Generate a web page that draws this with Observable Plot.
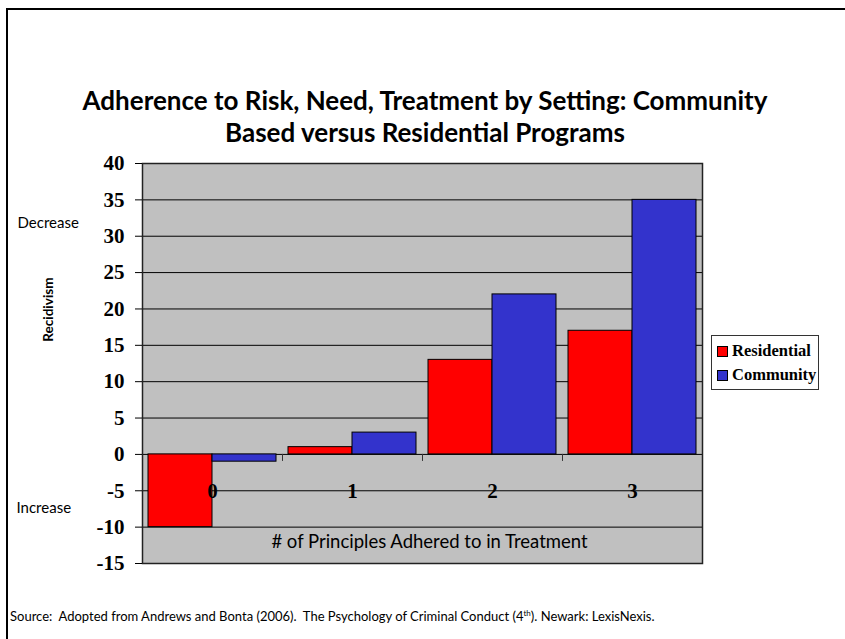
<!DOCTYPE html>
<html>
<head>
<meta charset="utf-8">
<script src="https://cdn.jsdelivr.net/npm/d3@7"></script>
<script src="https://cdn.jsdelivr.net/npm/@observablehq/plot@0.6"></script>
<style>
  body { margin: 0; background: #fff; }
  #chart { position: relative; width: 845px; height: 639px; overflow: hidden; font-family: Lato, "Open Sans", sans-serif; color: #000; }
  #chart svg { position: absolute; left: 0; top: 0; }
  .edge-top { position: absolute; left: 6px; top: 8px; right: 0; border-top: 2px solid #000; }
  .edge-left { position: absolute; left: 6px; top: 8px; bottom: 0; border-left: 2px solid #000; }
  .title { position: absolute; left: 0; width: 850px; top: 84px; text-align: center; font-weight: 700; font-size: 26px; line-height: 32px; }
  .source { position: absolute; left: 10px; top: 608px; font-size: 13px; white-space: nowrap; }
  .source sup { font-size: 8px; }
  .legend { position: absolute; left: 711px; top: 335px; width: 108px; height: 55px; border: 1px solid #333; box-sizing: border-box; background: #fff;
            font-family: "Liberation Serif", "Times New Roman", serif; font-weight: 700; font-size: 16.5px; }
  .legend .item { position: absolute; left: 5px; display: flex; align-items: center; white-space: nowrap; }
  .legend .sw { width: 9px; height: 9px; border: 1px solid #000; margin-right: 4px; }
</style>
</head>
<body>
<div id="chart">
  <div class="edge-top"></div>
  <div class="edge-left"></div>
  <div class="title">Adherence to Risk, Need, Treatment by Setting: Community<br>Based versus Residential Programs</div>
  <div class="source">Source:&nbsp; Adopted from Andrews and Bonta (2006).&nbsp; The Psychology of Criminal Conduct (4<sup>th</sup>). Newark: LexisNexis.</div>
  <div class="legend" id="legend"></div>
</div>
<script>
// Number of principles adhered to (categories)
const principles = ["0", "1", "2", "3"];
// Change in recidivism by setting
const residential = [-10, 1, 13, 17];
const community = [-1, 3, 22, 35];
const settings = ["Residential", "Community"];
const settingColors = ["#ff0000", "#3333cc"];
const yTicks = [-15, -10, -5, 0, 5, 10, 15, 20, 25, 30, 35, 40];
const xAxisTitle = "# of Principles Adhered to in Treatment";
const yAxisTitle = "Recidivism";

const rows = principles.flatMap((p, i) => [
  {principles: p, setting: settings[0], value: residential[i]},
  {principles: p, setting: settings[1], value: community[i]}
]);

// layout
const W = 845, H = 639;
const mL = 142, mR = 143, mT = 163, mB = 76;
const bandW = (W - mL - mR) / principles.length;
const gap = 6;
const barW = (bandW - 2 * gap) / 2;
const pxPerUnit = (H - mT - mB) / (yTicks[yTicks.length - 1] - yTicks[0]);

const serif = "'Liberation Serif', 'Times New Roman', serif";

const chart = Plot.plot({
  width: W,
  height: H,
  marginLeft: mL,
  marginRight: mR,
  marginTop: mT,
  marginBottom: mB,
  style: {background: "transparent", fontFamily: "Lato, sans-serif", color: "#000", overflow: "visible"},
  x: {domain: principles, padding: 0, axis: null},
  y: {domain: [yTicks[0], yTicks[yTicks.length - 1]], axis: null},
  color: {domain: settings, range: settingColors},
  marks: [
    Plot.frame({fill: "#c0c0c0", stroke: "none"}),
    Plot.ruleY(yTicks, {stroke: "#000", strokeWidth: 1}),
    // category boundary ticks below the zero line
    Plot.ruleX(principles.slice(1), {x: d => d, dx: -bandW / 2, y1: () => 0, y2: () => -7 / pxPerUnit, stroke: "#333", strokeWidth: 1}),
    Plot.barY(rows.filter(d => d.setting === settings[0]), {
      x: "principles", y: "value", fill: "setting", stroke: "#000", strokeWidth: 1,
      insetLeft: gap, insetRight: gap + barW
    }),
    Plot.barY(rows.filter(d => d.setting === settings[1]), {
      x: "principles", y: "value", fill: "setting", stroke: "#000", strokeWidth: 1,
      insetLeft: gap + barW, insetRight: gap
    }),
    Plot.frame({stroke: "#222", strokeWidth: 1.5}),
    // value axis: tick marks plus bold serif labels
    Plot.axisY(yTicks, {tickSize: 7, stroke: "#000", tickFormat: () => "", label: null}),
    Plot.text(yTicks, {y: d => d, frameAnchor: "left", dx: -18, textAnchor: "end", text: d => String(d),
      fontSize: 21, fontFamily: serif, fontWeight: "bold", fill: "#000"}),
    // category labels sit on the -5 gridline
    Plot.text(principles, {x: d => d, y: () => -5, text: d => d, fontSize: 21, fontFamily: serif, fontWeight: "bold", fill: "#000"}),
    Plot.text([xAxisTitle], {frameAnchor: "bottom", dx: 7, dy: -16, fontSize: 18.5, fill: "#000"}),
    Plot.text(["Decrease"], {frameAnchor: "left", y: () => 31.8, dx: -125, textAnchor: "start", fontSize: 15, fill: "#000"}),
    Plot.text(["Increase"], {frameAnchor: "left", y: () => -7.4, dx: -126, textAnchor: "start", fontSize: 15, fill: "#000"}),
    Plot.text([yAxisTitle], {frameAnchor: "left", y: () => 15.5, dx: -94, rotate: -90, fontSize: 13.5, fontWeight: "bold", fill: "#000"})
  ]
});
document.getElementById("chart").appendChild(chart);

// legend
const legend = document.getElementById("legend");
settings.forEach((s, i) => {
  const item = document.createElement("div");
  item.className = "item";
  item.style.top = (5 + i * 24) + "px";
  const sw = document.createElement("span");
  sw.className = "sw";
  sw.style.background = settingColors[i];
  item.appendChild(sw);
  item.appendChild(document.createTextNode(s));
  legend.appendChild(item);
});
document.getElementById("chart").appendChild(legend);
</script>
</body>
</html>
